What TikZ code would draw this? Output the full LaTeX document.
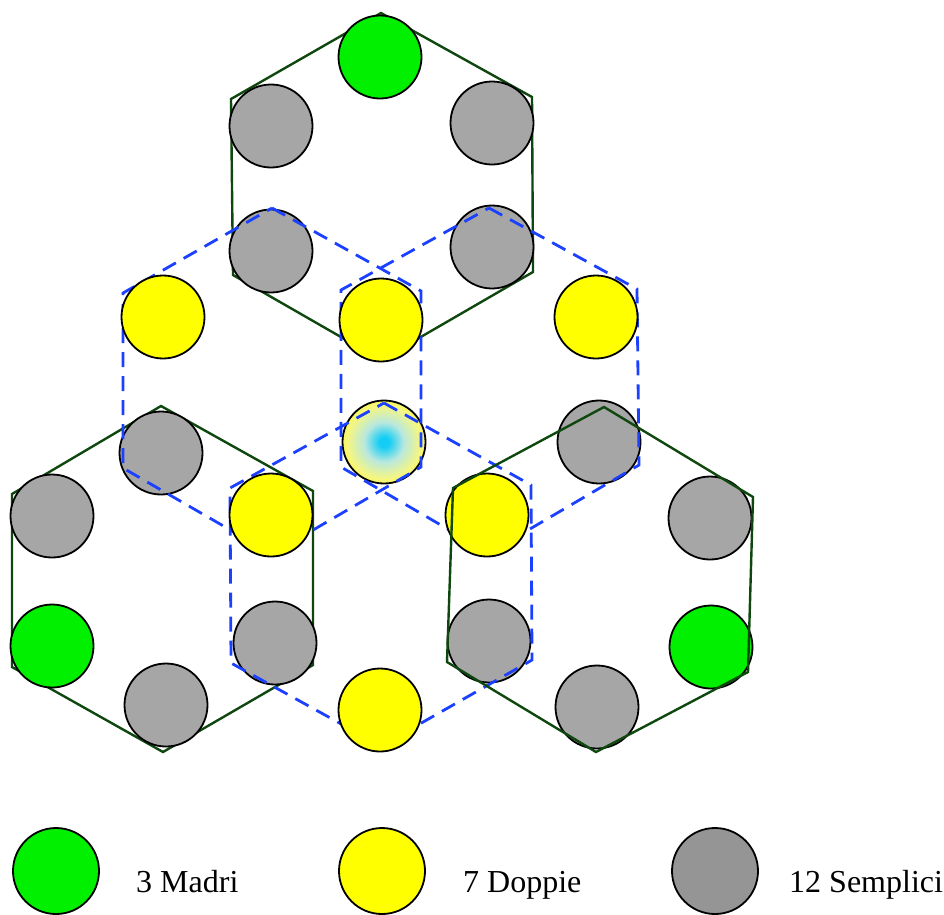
\documentclass[tikz,border=0pt]{standalone}
\usepackage{fontspec}
\setmainfont{Liberation Serif}
\definecolor{hexgreen}{RGB}{14,72,14}
\definecolor{dashblue}{RGB}{28,64,255}
\definecolor{madri}{RGB}{0,240,0}
\definecolor{semp}{RGB}{166,166,166}
\definecolor{sempleg}{RGB}{149,149,149}
\definecolor{dopp}{RGB}{255,255,0}
\definecolor{gradc}{RGB}{20,205,245}
\definecolor{gradm}{RGB}{185,232,222}
\definecolor{gradn}{RGB}{245,246,130}
\pgfdeclareradialshading{ballgrad}{\pgfpoint{0bp}{0bp}}{color(0bp)=(gradc); color(3bp)=(gradc); color(12bp)=(gradm); color(22bp)=(gradn); color(33bp)=(dopp); color(50bp)=(dopp)}
\tikzset{
  ball/.style={circle, draw=black, line width=1.8pt, minimum size=83pt, inner sep=0pt},
  madriball/.style={ball, fill=madri},
  sempball/.style={ball, fill=semp},
  doppball/.style={ball, fill=dopp},
  legball/.style={circle, draw=black, line width=1.8pt, minimum size=86pt, inner sep=0pt},
  hexline/.style={draw=hexgreen, line width=2.4pt, line join=miter},
  dashhex/.style={draw=dashblue, line width=2.8pt, dash pattern=on 15pt off 9pt},
  legtext/.style={anchor=base west, inner sep=0pt, font=\fontsize{32}{36}\selectfont}
}
\begin{document}
\begin{tikzpicture}[x=1pt,y=-1pt]
\useasboundingbox (0,0) rectangle (944,914);
% green hexagons (behind)
\draw[hexline] (381,13) -- (532,97) -- (533,272) -- (381,360) -- (233,275) -- (231,99) -- cycle;
\draw[hexline] (161,406) -- (313,491) -- (313,665) -- (163,752) -- (12,667) -- (12,494) -- cycle;
% mothers and simples
\node[madriball] (m1) at (380,57) {};
\node[madriball] (m2) at (52,646) {};
\node[madriball] (m3) at (711,647) {};
\node[sempball] (s1) at (271,126) {};
\node[sempball] (s2) at (492,123) {};
\node[sempball] (s3) at (271,251) {};
\node[sempball] (s4) at (492,247) {};
\node[sempball] (s5) at (161,453) {};
\node[sempball] (s6) at (52,516) {};
\node[sempball] (s7) at (166,705) {};
\node[sempball] (s8) at (275,643) {};
\node[sempball] (s9) at (599,442) {};
\node[sempball] (s10) at (710,518) {};
\node[sempball] (s11) at (597,707) {};
\node[sempball] (s12) at (489,641) {};
% centre
\node[ball, shading=ballgrad] (c) at (384,442) {};
% dashed hexagons
\draw[dashhex] (272,208) -- (421,291) -- (421,467) -- (272,554) -- (123,468) -- (123,293) -- cycle;
\draw[dashhex] (489,208) -- (637,289) -- (639,465) -- (489,553) -- (341,467) -- (341,290) -- cycle;
\draw[dashhex] (384,403) -- (531,485) -- (532,660) -- (381,746) -- (231,663) -- (230,488) -- cycle;
% doubles
\node[doppball] (d1) at (381,320) {};
\node[doppball] (d2) at (163,317) {};
\node[doppball] (d3) at (596,317) {};
\node[doppball] (d4) at (271,515) {};
\node[doppball] (d5) at (487,515) {};
\node[doppball] (d6) at (380,710) {};
% bottom-right green hexagon (in front)
\draw[hexline] (604,407) -- (753,497) -- (748,672) -- (596,752) -- (447,662) -- (453,488) -- cycle;
% legend
\node[legball, fill=madri] (lg) at (56,871) {};
\node[legball, fill=dopp] (ly) at (382,871) {};
\node[legball, fill=sempleg] (ls) at (715,871) {};
\node[legtext] (tg) at (136,892) {3 Madri};
\node[legtext] (ty) at (463,892) {7 Doppie};
\node[legtext] (ts) at (789,892) {12 Semplici};
\end{tikzpicture}
\end{document}
